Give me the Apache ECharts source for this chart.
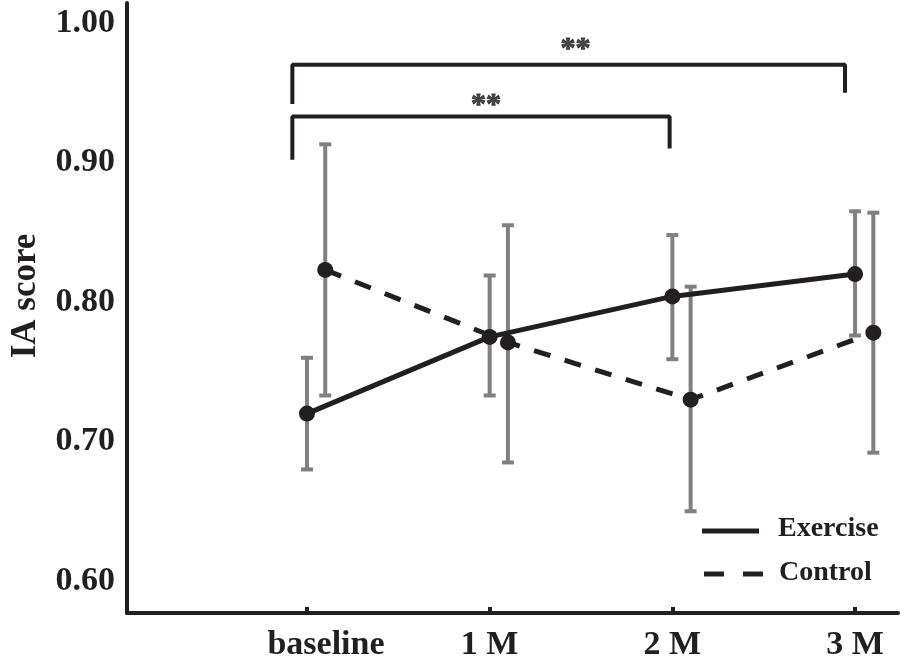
<!DOCTYPE html>
<html>
<head>
<meta charset="utf-8">
<script src="https://cdn.jsdelivr.net/npm/echarts@6/dist/echarts.min.js"></script>
<style>
    html, body { margin: 0; padding: 0; background: #ffffff; }
    #chart { width: 904px; height: 664px; }
</style>
</head>
<body>
<div id="chart"></div>
<script>
// Time points (x = 0, 1, 2, 3)
const categories = ["baseline", "1 M", "2 M", "3 M"];
const yTicks = [0.6, 0.7, 0.8, 0.9, 1.0];

// Exercise group: mean and error bar ends
const exerciseMean = [0.720, 0.775, 0.804, 0.820];
const exerciseLow = [0.680, 0.733, 0.759, 0.776];
const exerciseHigh = [0.760, 0.819, 0.848, 0.865];

// Control group: mean and error bar ends
const controlMean = [0.823, 0.771, 0.730, 0.778];
const controlLow = [0.733, 0.685, 0.650, 0.692];
const controlHigh = [0.913, 0.855, 0.811, 0.864];

// Control points are drawn a little to the right of the time point
const controlShift = 0.1;

// Significance brackets [x, y]
const bracketOuter = [[-0.08, 0.942], [-0.08, 0.970], [2.945, 0.970], [2.945, 0.950]];
const bracketInner = [[-0.08, 0.902], [-0.08, 0.933], [1.985, 0.933], [1.985, 0.910]];
const stars = [[1.47, 0.981, "**"], [0.98, 0.941, "**"]];

const ink = "#231f20";
const grey = "#808080";
const font = "Liberation Serif";

function points(means, shift)
{
    return means.map((v, i) => [i + shift, v]);
}

function bars(lows, highs, shift)
{
    return lows.map((v, i) => [i + shift, v, highs[i]]);
}

// Vertical error bar with caps
function renderErrorBar(params, api)
{
    const top = api.coord([api.value(0), api.value(2)]);
    const bottom = api.coord([api.value(0), api.value(1)]);
    const half = 6;
    const style = { stroke: grey, lineWidth: 4 };

    return {
        type: "group",
        children: [
            { type: "line", shape: { x1: top[0], y1: top[1], x2: bottom[0], y2: bottom[1] }, style },
            { type: "line", shape: { x1: top[0] - half, y1: top[1], x2: top[0] + half, y2: top[1] }, style },
            { type: "line", shape: { x1: bottom[0] - half, y1: bottom[1], x2: bottom[0] + half, y2: bottom[1] }, style }
        ]
    };
}

const chart = echarts.init(document.getElementById("chart"));

chart.setOption({
    backgroundColor: "#ffffff",
    animation: false,
    grid: { left: 125, right: 6, top: 3, bottom: 51 },
    xAxis: {
        type: "value",
        min: -0.985,
        max: 3.235,
        splitLine: { show: false },
        axisLine: { onZero: false, lineStyle: { color: ink, width: 4 } },
        axisTick: { show: true, inside: true, length: 6, customValues: [0, 1, 2, 3], lineStyle: { color: ink, width: 4 } },
        axisLabel: {
            customValues: [0, 1, 2, 3],
            margin: 15,
            color: ink,
            fontFamily: font,
            fontWeight: "bold",
            fontSize: 34,
            formatter: (v) => v === 0 ? "{b|" + categories[0] + "}" : categories[Math.round(v)],
            rich: { b: { padding: [0, 0, 0, 38], fontFamily: font, fontWeight: "bold", fontSize: 34, color: ink } }
        }
    },
    yAxis: {
        type: "value",
        min: 0.5771,
        max: 1.0143,
        name: "IA score",
        nameLocation: "middle",
        nameGap: 84,
        nameTextStyle: { color: ink, fontFamily: font, fontWeight: "bold", fontSize: 35, padding: [0, 0, 0, 24] },
        splitLine: { show: false },
        axisLine: { show: true, onZero: false, lineStyle: { color: ink, width: 4 } },
        axisTick: { show: false },
        axisLabel: {
            customValues: yTicks,
            margin: 12,
            color: ink,
            fontFamily: font,
            fontWeight: "bold",
            fontSize: 34,
            formatter: (v) => v.toFixed(2)
        }
    },
    series: [
        {
            name: "exercise_bars",
            type: "custom",
            renderItem: renderErrorBar,
            data: bars(exerciseLow, exerciseHigh, 0),
            z: 1
        },
        {
            name: "control_bars",
            type: "custom",
            renderItem: renderErrorBar,
            data: bars(controlLow, controlHigh, controlShift),
            z: 1
        },
        {
            name: "Exercise",
            type: "line",
            data: points(exerciseMean, 0),
            symbol: "circle",
            symbolSize: 16,
            itemStyle: { color: ink },
            lineStyle: { color: ink, width: 5 },
            z: 3
        },
        {
            name: "Control",
            type: "line",
            data: points(controlMean, controlShift),
            symbol: "circle",
            symbolSize: 16,
            itemStyle: { color: ink },
            lineStyle: { color: ink, width: 5, type: [17, 15] },
            z: 3
        },
        {
            name: "bracket_outer",
            type: "line",
            data: bracketOuter,
            symbol: "none",
            lineStyle: { color: ink, width: 4 },
            z: 2
        },
        {
            name: "bracket_inner",
            type: "line",
            data: bracketInner,
            symbol: "none",
            lineStyle: { color: ink, width: 4 },
            z: 2
        },
        {
            name: "stars",
            type: "scatter",
            data: stars,
            symbolSize: 0,
            label: {
                show: true,
                position: "inside",
                formatter: (p) => p.data[2],
                color: ink,
                fontFamily: font,
                fontWeight: "bold",
                fontSize: 30,
                textBorderColor: ink,
                textBorderWidth: 1
            }
        }
    ],
    // Legend drawn by hand (solid line / dashed line, no markers)
    graphic: [
        { type: "line", shape: { x1: 702, y1: 531, x2: 759, y2: 531 }, style: { stroke: ink, lineWidth: 5 } },
        { type: "line", shape: { x1: 704, y1: 574, x2: 763, y2: 574 }, style: { stroke: ink, lineWidth: 5, lineDash: [20, 19] } },
        { type: "text", left: 778, top: 515, style: { text: "Exercise", fill: ink, font: "bold 28px " + font } },
        { type: "text", left: 779, top: 559, style: { text: "Control", fill: ink, font: "bold 28px " + font } }
    ]
});
</script>
</body>
</html>
